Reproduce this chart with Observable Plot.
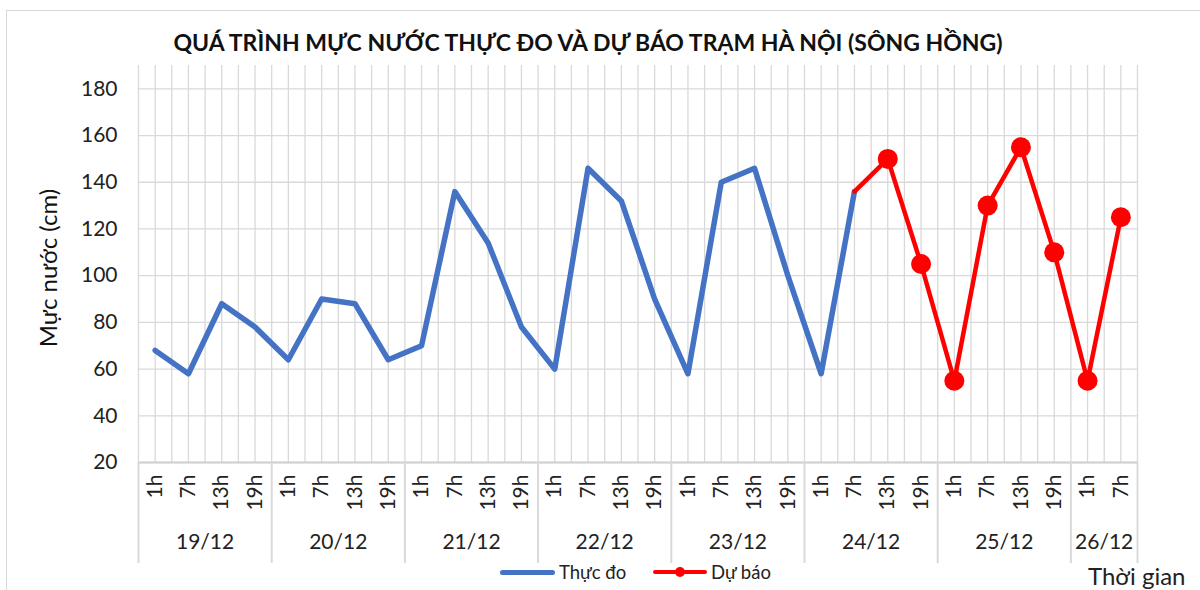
<!DOCTYPE html>
<html>
<head>
<meta charset="utf-8">
<script src="https://cdn.jsdelivr.net/npm/d3@7"></script>
<script src="https://cdn.jsdelivr.net/npm/@observablehq/plot@0.6"></script>
<style>
  html, body { margin: 0; padding: 0; background: #fff; }
  #wrap { position: relative; width: 1200px; height: 590px; overflow: hidden; font-family: Lato, "Open Sans", sans-serif; color: #222; }
  #border { position: absolute; left: 6px; top: 10px; width: 1210px; height: 620px; border: 1.5px solid #d9d9d9; box-sizing: border-box; }
  #title { position: absolute; left: 0; top: 28px; width: 1176px; text-align: center; font-weight: 700; font-size: 23px; color: #111; white-space: nowrap; }
  #ylab { position: absolute; left: 47px; top: 268px; transform: translate(-50%, -50%) rotate(-90deg); font-size: 24px; white-space: nowrap; color: #111; }
  #chart { position: absolute; left: 0; top: 0; }
  .leg { position: absolute; top: 561px; font-size: 18.5px; color: #222; white-space: nowrap; }
  .sw { position: absolute; }
  #xlab { position: absolute; left: 1088px; top: 561px; font-size: 24px; color: #222; white-space: nowrap; }
</style>
</head>
<body>
<div id="wrap">
  <div id="border"></div>
  <div id="chart"></div>
  <div id="title"></div>
  <div id="ylab"></div>
  <div id="legend"></div>
  <div id="xlab"></div>
</div>
<script>
// ---- Data ----
const titleText = "QUÁ TRÌNH MỰC NƯỚC THỰC ĐO VÀ DỰ BÁO TRẠM HÀ NỘI (SÔNG HỒNG)";
const yTitle = "Mực nước (cm)";
const xTitle = "Thời gian";
const seriesNames = ["Thực đo", "Dự báo"];
const seriesColors = ["#4472C4", "#FF0000"];

const dayLabels = [
  "19/12","19/12","19/12","19/12",
  "20/12","20/12","20/12","20/12",
  "21/12","21/12","21/12","21/12",
  "22/12","22/12","22/12","22/12",
  "23/12","23/12","23/12","23/12",
  "24/12","24/12","24/12","24/12",
  "25/12","25/12","25/12","25/12",
  "26/12","26/12"
];
const hourLabels = [
  "1h","7h","13h","19h",
  "1h","7h","13h","19h",
  "1h","7h","13h","19h",
  "1h","7h","13h","19h",
  "1h","7h","13h","19h",
  "1h","7h","13h","19h",
  "1h","7h","13h","19h",
  "1h","7h"
];
const thucDo = [
  68, 58, 88, 78,
  64, 90, 88, 64,
  70, 136, 114, 78,
  60, 146, 132, 90,
  58, 140, 146, 100,
  58, 136, null, null,
  null, null, null, null,
  null, null
];
const duBao = [
  null, null, null, null,
  null, null, null, null,
  null, null, null, null,
  null, null, null, null,
  null, null, null, null,
  null, 136, 150, 105,
  55, 130, 155, 110,
  55, 125
];
const yTicks = [20, 40, 60, 80, 100, 120, 140, 160, 180];
const yMax = 190;

// ---- Derived ----
const n = hourLabels.length;
const actualRows = thucDo.map((v, i) => ({i, v})).filter(d => d.v != null);
const forecastRows = duBao.map((v, i) => ({i, v})).filter(d => d.v != null);
const firstForecast = forecastRows.length ? forecastRows[0].i : -1;
const gridX = d3.range(0, 2 * n + 1).map(k => k / 2 - 0.5);
const dayGroups = d3.groups(dayLabels.map((d, i) => ({d, i})), o => o.d)
  .map(([label, items]) => ({label, mid: d3.mean(items, o => o.i), lo: d3.min(items, o => o.i) - 0.5, hi: d3.max(items, o => o.i) + 0.5}));
const dayBounds = Array.from(new Set(dayGroups.flatMap(g => [g.lo, g.hi])));
const hourRows = hourLabels.map((h, i) => ({h, i}));

const W = 1200, H = 590;
const mL = 138, mR = 63, mT = 65, mB = 128;
const frameH = H - mT - mB;

const chart = Plot.plot({
  width: W, height: H,
  marginLeft: mL, marginRight: mR, marginTop: mT, marginBottom: mB,
  x: {type: "linear", domain: [-0.5, n - 0.5], axis: null},
  y: {domain: [yTicks[0], yMax], axis: null},
  style: {fontFamily: "Lato, 'Open Sans', sans-serif", background: "transparent", overflow: "visible", color: "#222"},
  marks: [
    Plot.ruleX(gridX, {x: d => d, stroke: "#d9d9d9", strokeWidth: 1.3}),
    Plot.ruleY(yTicks, {y: d => d, stroke: "#d9d9d9", strokeWidth: 1.3}),
    Plot.ruleY([yTicks[0]], {y: d => d, stroke: "#d0d0d0", strokeWidth: 2}),
    Plot.ruleX(dayBounds, {x: d => d, stroke: "#d9d9d9", strokeWidth: 2, insetTop: frameH, insetBottom: -101}),
    Plot.axisY({ticks: yTicks, tickSize: 0, tickPadding: 21, fontSize: 21, label: null, fill: "#222"}),
    Plot.text(hourRows, {x: "i", text: "h", frameAnchor: "bottom", rotate: -90, textAnchor: "end", lineAnchor: "middle", dy: 12, fontSize: 21, fill: "#222"}),
    Plot.text(dayGroups, {x: "mid", text: "label", frameAnchor: "bottom", dy: 86, fontSize: 21, fill: "#222"}),
    Plot.line(actualRows, {x: "i", y: "v", stroke: seriesColors[0], strokeWidth: 5.5, strokeLinejoin: "round", strokeLinecap: "round"}),
    Plot.line(forecastRows, {x: "i", y: "v", stroke: seriesColors[1], strokeWidth: 4.5, strokeLinejoin: "round"}),
    Plot.dot(forecastRows.filter(d => d.i !== firstForecast), {x: "i", y: "v", r: 10, fill: seriesColors[1], stroke: "none"})
  ]
});
document.getElementById("chart").appendChild(chart);
document.getElementById("title").textContent = titleText;
document.getElementById("ylab").textContent = yTitle;
document.getElementById("xlab").textContent = xTitle;

// Legend
const legend = document.getElementById("legend");
const legItems = [
  {x: 500, name: seriesNames[0], color: seriesColors[0], marker: false, w: 55, sw: 5},
  {x: 653, name: seriesNames[1], color: seriesColors[1], marker: true, w: 54, sw: 4}
];
legItems.forEach(it => {
  const line = document.createElement("div");
  line.className = "sw";
  line.style.cssText = `left:${it.x}px;top:${572 - it.sw/2}px;width:${it.w}px;height:${it.sw}px;background:${it.color};border-radius:${it.sw/2}px;`;
  legend.appendChild(line);
  if (it.marker) {
    const dot = document.createElement("div");
    dot.className = "sw";
    dot.style.cssText = `left:${it.x + it.w/2 - 5}px;top:567px;width:10px;height:10px;border-radius:5px;background:${it.color};`;
    legend.appendChild(dot);
  }
  const t = document.createElement("div");
  t.className = "leg";
  t.style.left = (it.x + it.w + 4) + "px";
  t.textContent = it.name;
  legend.appendChild(t);
});
</script>
</body>
</html>
